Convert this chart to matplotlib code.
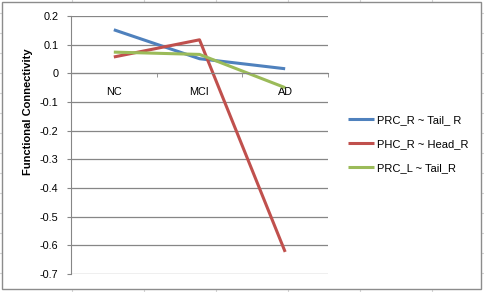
import matplotlib
matplotlib.use('Agg')
import matplotlib.pyplot as plt
from matplotlib.patches import Rectangle

# Datos
grupos = ['NC', 'MCI', 'AD']
prc_r_tail_r = [0.152, 0.051, 0.016]
phc_r_head_r = [0.057, 0.117, -0.623]
prc_l_tail_r = [0.074, 0.066, -0.050]
etiquetas = ['PRC_R ~ Tail_ R', 'PHC_R ~ Head_R', 'PRC_L ~ Tail_R']
colores = ['#4F81BD', '#C0504D', '#9BBB59']
yticks = [0.2, 0.1, 0, -0.1, -0.2, -0.3, -0.4, -0.5, -0.6, -0.7]

plt.rcParams['font.family'] = ['Liberation Sans', 'DejaVu Sans']
W, H = 484, 292
fig = plt.figure(figsize=(W / 100, H / 100), dpi=100)

# fondo: celdas de la hoja y marco del grafico (coordenadas en pixeles)
bg = fig.add_axes([0, 0, 1, 1], zorder=0)
bg.set_xlim(0, W)
bg.set_ylim(H, 0)
bg.axis('off')
for x in [72, 144, 216, 288, 360, 432]:
    bg.plot([x, x], [0, H], color='#d4d4d4', lw=0.8)
for y in range(13, H, 20):
    bg.plot([0, W], [y, y], color='#d4d4d4', lw=0.8)
bg.add_patch(Rectangle((1.5, 1.5), 479.5, 287.5, facecolor='white',
                       edgecolor='#8c8c8c', lw=1.0, zorder=2))

# area de trazado
left, right, top, bottom = 71, 328, 16, 274
ax = fig.add_axes([left / W, 1 - bottom / H, (right - left) / W, (bottom - top) / H], zorder=1)
ax.patch.set_alpha(0)

series = [prc_r_tail_r, phc_r_head_r, prc_l_tail_r]
x = list(range(len(grupos)))
for datos, lab, col in zip(series, etiquetas, colores):
    ax.plot(x, datos, color=col, lw=2.2, label=lab, solid_capstyle='butt')

ax.set_xlim(-0.5, 2.5)
ax.set_ylim(-0.7, 0.2)
ax.set_yticks(yticks)
ax.set_yticklabels([f'{v:g}' for v in yticks], fontsize=7.8)
ax.yaxis.grid(True, color='#868686', lw=0.9)
ax.set_axisbelow(True)

for s in ['top', 'right']:
    ax.spines[s].set_visible(False)
ax.spines['left'].set_color('#868686')
ax.spines['bottom'].set_color('#868686')
ax.spines['bottom'].set_position(('data', 0))

ax.set_xticks(x)
ax.set_xticklabels(grupos, fontsize=7.8)
ax.set_xticks([0.5, 1.5, 2.5], minor=True)
ax.tick_params(axis='x', which='major', length=0, pad=10)
ax.tick_params(axis='x', which='minor', length=3, color='#868686', direction='out')
ax.tick_params(axis='y', length=3, color='#868686', pad=6)

fig.text(28 / W, 1 - 112 / H, 'Functional Connectivity', rotation=90,
         ha='center', va='center', fontsize=8, fontweight='bold')

ax.legend(loc='upper left', bbox_to_anchor=(348, 115), bbox_transform=bg.transData,
          frameon=False, fontsize=8, handlelength=2.3, handletextpad=0.3,
          labelspacing=1.25, borderpad=0, borderaxespad=0)

fig.savefig('out.png', dpi=100)
